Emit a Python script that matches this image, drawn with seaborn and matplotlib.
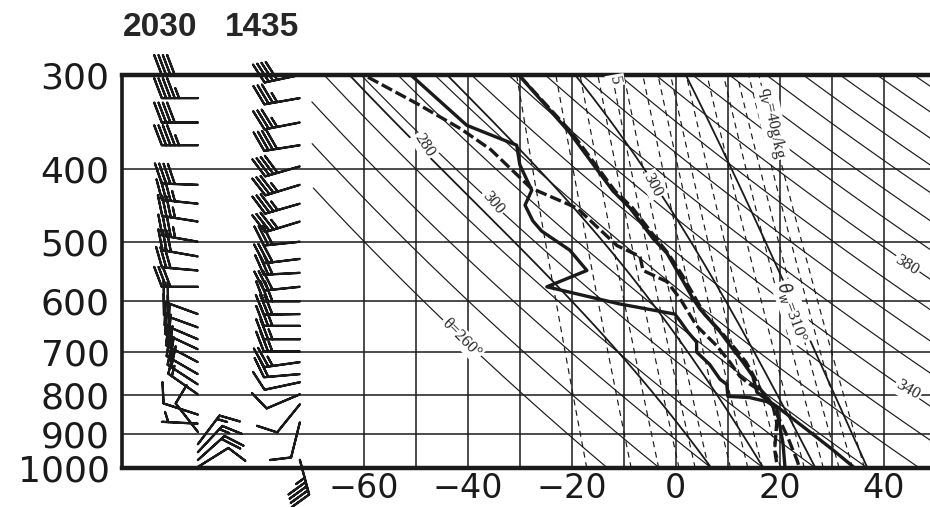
import numpy as np
import pandas as pd
import matplotlib
matplotlib.use("Agg")
import matplotlib.pyplot as plt
import seaborn as sns

sns.set_theme(style="white")
plt.rcParams['font.family'] = ['DejaVu Sans']

# ---------------- data ----------------
pressure_ticks = [300, 400, 500, 600, 700, 800, 900, 1000]
temp_ticks = [-60, -40, -20, 0, 20, 40]
isotherms = [-60, -50, -40, -30, -20, -10, 0, 10, 20, 30, 40]
theta_lines = list(range(260, 460, 10))              # dry adiabats (K)
mixing_ratios = [1, 2, 3, 4, 5, 6, 8, 10, 12, 15, 20, 25, 30, 35, 40]  # g/kg
theta_w_lines = [280, 290, 300, 310]                 # pseudo-adiabats (K)

# 1435 sounding
p_T1435 = [301, 358, 428, 451, 495, 518, 555, 595, 614, 659, 695, 723, 755, 793, 811, 828, 889, 946, 1000]
T1435 = [-30.0, -20.4, -12.1, -8.8, -4.4, -1.7, 0.8, 3.3, 4.6, 8.5, 11.0, 12.9, 14.8, 15.6, 17.5, 19.4, 25.2, 30.2, 34.4]
p_Td1435 = [299, 350, 372, 395, 427, 447, 469, 484, 513, 546, 574, 605, 624, 637, 659, 680, 701, 728, 762, 774, 803, 806, 816, 831, 881, 926, 1000]
Td1435 = [-51.2, -40.2, -30.6, -30.0, -27.7, -29.0, -27.5, -25.8, -20.4, -17.1, -24.8, -10.8, -0.2, 0.8, 2.3, 4.0, 4.0, 6.5, 8.5, 9.8, 10.0, 14.2, 17.5, 19.4, 20.0, 20.6, 21.0]

# 2030 sounding
p_T2030 = [301, 358, 428, 451, 495, 518, 555, 595, 624, 659, 695, 723, 755, 786, 811, 836, 870, 909, 946, 976, 1000]
T2030 = [-30.0, -20.0, -11.7, -8.3, -3.8, -1.5, 1.3, 3.8, 5.5, 8.7, 11.5, 13.5, 15.0, 16.3, 17.9, 19.0, 20.2, 21.5, 22.5, 23.3, 23.8]
p_Td2030 = [302, 328, 354, 377, 424, 451, 506, 523, 546, 565, 595, 647, 688, 723, 755, 769, 793, 828, 870, 909, 946, 985, 1000]
Td2030 = [-59.2, -49.6, -41.3, -35.6, -27.9, -19.0, -11.3, -6.9, -6.3, -1.7, 0.8, 4.0, 7.9, 10.4, 12.3, 13.7, 16.7, 18.7, 19.4, 19.2, 19.0, 19.4, 19.4]

# winds (direction deg, speed kt)
p_w2030 = [300, 322, 347, 372, 420, 445, 470, 500, 523, 546, 574, 624, 650, 674, 695, 723, 750, 774, 798, 849, 873, 895, 930, 953, 976, 997]
dir2030 = [270, 270, 270, 270, 272, 276, 279, 280, 280, 275, 270, 290, 290, 293, 295, 298, 300, 303, 305, 288, 273, 322, 37, 43, 48, 58]
spd2030 = [40, 45, 40, 45, 40, 35, 35, 35, 30, 30, 30, 20, 20, 20, 20, 20, 20, 20, 15, 10, 5, 10, 15, 15, 20, 10]

p_w1435 = [300, 322, 347, 372, 397, 420, 445, 470, 500, 527, 550, 574, 600, 624, 647, 674, 700, 723, 750, 769, 798, 823, 870, 975]
dir1435 = [258, 260, 259, 261, 254, 253, 254, 253, 264, 263, 267, 264, 270, 269, 270, 270, 270, 262, 265, 258, 247, 219, 194, 165]
spd1435 = [40, 35, 35, 40, 40, 35, 35, 35, 30, 30, 30, 30, 30, 30, 30, 25, 25, 25, 20, 10, 10, 10, 10, 45]

# ---------------- figure ----------------
W, H = 930, 507
fig = plt.figure(figsize=(W / 100, H / 100), dpi=100)
ax_left, ax_right, ax_top, ax_bot = 122, 940, 75, 468
ax = fig.add_axes([ax_left / W, 1 - ax_bot / H, (ax_right - ax_left) / W, (ax_bot - ax_top) / H])
ax.set_yscale('log')
ax.set_ylim(1000, 300)
ax.set_xlim(-106.5, 50.8)
ax.set_facecolor('white')

p_grid = np.linspace(1000, 300, 300)

# isobars
for p in pressure_ticks[1:-1]:
    ax.axhline(p, color='k', lw=1.1, zorder=1)
# isotherms
for t in isotherms:
    ax.plot([t, t], [1000, 300], color='k', lw=1.1, zorder=1)
# dry adiabats
for th in theta_lines:
    T = th * (p_grid / 1000.0) ** 0.286 - 273.15
    T = np.where(T >= -70, T, np.nan)
    ax.plot(T, p_grid, color='k', lw=0.85, zorder=1)
# mixing ratio lines
for w in mixing_ratios:
    e = (w / 1000.0) * p_grid / (0.622 + w / 1000.0)
    ln = np.log(e / 6.112)
    Td = 243.5 * ln / (17.67 - ln)
    ax.plot(Td, p_grid, color='k', lw=0.85, ls=(0, (5, 4)), zorder=1)
# pseudo-adiabats
def moist(theta_w, pp):
    Rd, Cp, Lv, eps = 287.04, 1005.7, 2.501e6, 0.622
    def f(T, p):
        es = 6.112 * np.exp(17.67 * (T - 273.15) / (T - 29.65))
        rs = eps * es / (p - es)
        return (Rd * T + Lv * rs) / (Cp + Lv * Lv * rs * eps / (Rd * T * T)) / p
    T = float(theta_w)
    out = [T]
    for i in range(1, len(pp)):
        p0, p1 = pp[i - 1], pp[i]
        k1 = f(T, p0)
        k2 = f(T + k1 * (p1 - p0), p1)
        T = T + 0.5 * (k1 + k2) * (p1 - p0)
        out.append(T)
    return np.array(out) - 273.15
for tw in theta_w_lines:
    ax.plot(moist(tw, p_grid), p_grid, color='k', lw=1.3, zorder=1)

# soundings (seaborn)
def prof(p, t, dashed):
    df = pd.DataFrame({'T': t, 'p': p})
    kw = dict(linestyle=(0, (3.5, 1.2))) if dashed else {}
    sns.lineplot(data=df, x='T', y='p', sort=False, estimator=None, color='k',
                 lw=2.4, ax=ax, zorder=4, **kw)
prof(p_T1435, T1435, False)
prof(p_Td1435, Td1435, False)
prof(p_T2030, T2030, True)
prof(p_Td2030, Td2030, True)

# line labels
lab_kw = dict(family='Liberation Serif', fontsize=12, ha='center', va='center', zorder=3,
              bbox=dict(boxstyle='square,pad=0.1', fc='white', ec='none'))
ax.text(-48.3, 372, '280', rotation=-57, **lab_kw)
ax.text(-35.2, 444, '300', rotation=-50, **lab_kw)
ax.text(-4.4, 420, '300', rotation=-62, **lab_kw)
ax.text(22.5, 620, r'$\theta_w$=310°', rotation=-70, **lab_kw)
ax.text(-41.2, 672, 'θ=260°', rotation=-45, **lab_kw)
ax.text(44.4, 538, '380', rotation=-32, **lab_kw)
ax.text(44.6, 788, '340', rotation=-30, **lab_kw)
ax.text(-11.7, 305, '5', rotation=-80, **lab_kw)
ax.text(18.5, 347, r'q$_v$=40g/kg', rotation=-78, **lab_kw)

# wind barbs
def barbs(xpix, p, d, s):
    d = np.radians(np.array(d, float))
    s = np.array(s, float)
    u = -s * np.sin(d)
    v = -s * np.cos(d)
    x = np.full(len(p), (xpix - 676) / 5.2)
    ax.barbs(x, p, u, v, length=7.2, linewidth=1.6, color='k', zorder=5, clip_on=False,
             sizes=dict(spacing=0.12, height=0.55, width=0.42))
barbs(198, p_w2030, dir2030, spd2030)
barbs(300, p_w1435, dir1435, spd1435)

# axes styling
ax.set_yticks(pressure_ticks)
ax.set_yticklabels([str(p) for p in pressure_ticks])
ax.yaxis.set_minor_locator(matplotlib.ticker.NullLocator())
ax.set_xticks(temp_ticks)
ax.set_xticklabels(['\u2212%d' % -t if t < 0 else str(t) for t in temp_ticks])
ax.tick_params(axis='y', length=0, labelsize=26, colors='k', pad=9)
ax.tick_params(axis='x', length=0, labelsize=24, colors='k', pad=3)
ax.set_xlabel('')
ax.set_ylabel('')
for side in ['top', 'bottom']:
    ax.spines[side].set_linewidth(3.2)
    ax.spines[side].set_color('k')
ax.spines['left'].set_linewidth(2.6)
ax.spines['left'].set_color('k')
ax.spines['right'].set_visible(False)
ax.grid(False)

hdr_kw = dict(ha='center', va='center', fontsize=24, fontweight='bold',
              family=['Liberation Sans', 'DejaVu Sans'])
fig.text(160 / W, 1 - 27 / H, '2030', **hdr_kw)
fig.text(262 / W, 1 - 27 / H, '1435', **hdr_kw)

fig.savefig('out.png', dpi=100)
